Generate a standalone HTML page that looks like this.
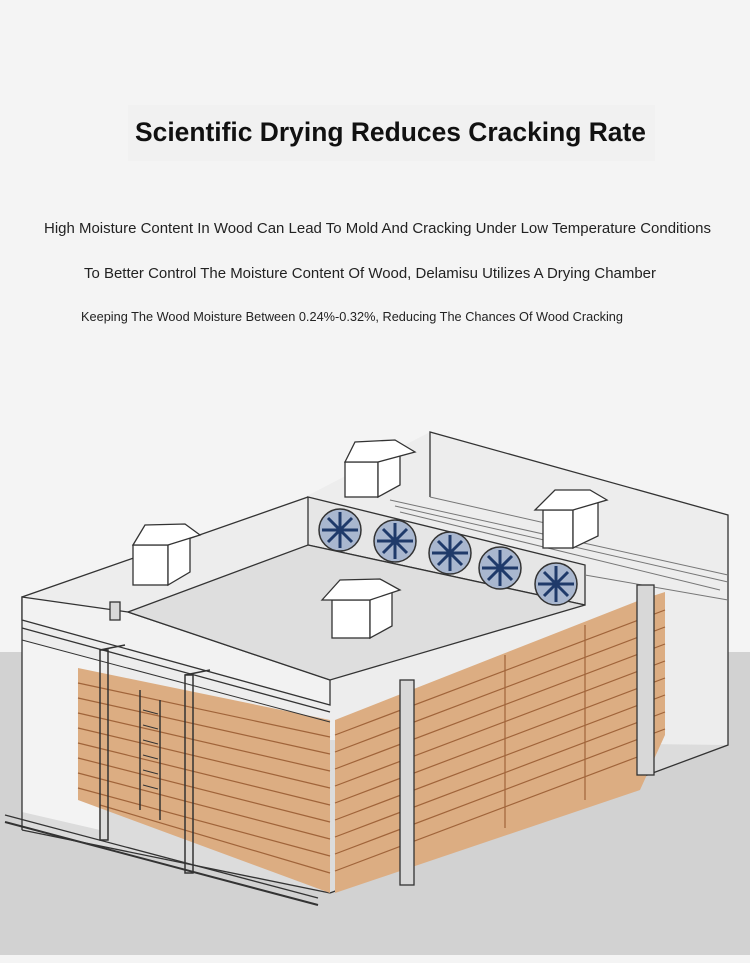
<!DOCTYPE html>
<html><head><meta charset="utf-8"><style>
html,body{margin:0;padding:0;background:#f4f4f4;}
svg{display:block}
</style></head><body>
<svg width="750" height="963" viewBox="0 0 750 963" xmlns="http://www.w3.org/2000/svg" font-family="Liberation Sans, sans-serif">
<rect x="0" y="0" width="750" height="963" fill="#f4f4f4"/>
<rect x="0" y="652" width="750" height="303" fill="#d2d2d2"/>
<rect x="0" y="955" width="750" height="8" fill="#f4f4f4"/>
<rect x="128" y="105" width="527" height="56" fill="#f1f1f1"/>
<text x="135" y="141" font-size="27" font-weight="bold" fill="#111" textLength="511" lengthAdjust="spacingAndGlyphs">Scientific Drying Reduces Cracking Rate</text>
<text x="44" y="233" font-size="15" fill="#222" textLength="667" lengthAdjust="spacingAndGlyphs">High Moisture Content In Wood Can Lead To Mold And Cracking Under Low Temperature Conditions</text>
<text x="84" y="278" font-size="15" fill="#222" textLength="572" lengthAdjust="spacingAndGlyphs">To Better Control The Moisture Content Of Wood, Delamisu Utilizes A Drying Chamber</text>
<text x="81" y="321" font-size="12.5" fill="#222" textLength="542" lengthAdjust="spacingAndGlyphs">Keeping The Wood Moisture Between 0.24%-0.32%, Reducing The Chances Of Wood Cracking</text>

<g stroke="#333" stroke-width="1.3" fill="none">
<polygon points="22,597 305,497 430,432 728,515 728,745 330,893 22,830" fill="#ededed" stroke="none"/>
<polygon points="22,655 330,740 728,745 330,893 22,830" fill="#dcdcdc" stroke="none"/>
<polygon points="22,640 100,660 100,830 22,812" fill="#f3f3f3" stroke="none"/>
<polyline points="22,830 22,597 308,497"/>
<polyline points="430,497 430,432 728,515 728,745 330,893"/>
<line x1="22" y1="830" x2="330" y2="893"/>
<line x1="5" y1="822" x2="318" y2="905" stroke-width="2"/>
<line x1="5" y1="815" x2="318" y2="898"/>
</g>
<polygon points="335,720 640,600 665,592 665,735 640,790 335,893" fill="#dcad82"/>
<g stroke="#a0643a" stroke-width="1.2">
<line x1="335" y1="735" x2="665" y2="610"/><line x1="335" y1="752" x2="665" y2="627"/><line x1="335" y1="769" x2="665" y2="644"/><line x1="335" y1="786" x2="665" y2="661"/><line x1="335" y1="803" x2="665" y2="678"/><line x1="335" y1="820" x2="665" y2="695"/><line x1="335" y1="837" x2="665" y2="712"/><line x1="335" y1="854" x2="665" y2="729"/><line x1="335" y1="871" x2="640" y2="756"/>
<line x1="505" y1="655" x2="505" y2="828"/><line x1="585" y1="625" x2="585" y2="800"/>
</g>
<polygon points="78,668 330,720 330,893 78,800" fill="#dcad82"/>
<g stroke="#a0643a" stroke-width="1.2">
<line x1="78" y1="683" x2="330" y2="737"/><line x1="78" y1="698" x2="330" y2="754"/><line x1="78" y1="713" x2="330" y2="771"/><line x1="78" y1="728" x2="330" y2="788"/><line x1="78" y1="743" x2="330" y2="805"/><line x1="78" y1="758" x2="330" y2="822"/><line x1="78" y1="773" x2="330" y2="839"/><line x1="78" y1="788" x2="330" y2="856"/><line x1="100" y1="805" x2="330" y2="873"/>
</g>
<polygon points="22,597 128,612 330,680 330,705 22,620" fill="#f2f2f2" stroke="#333" stroke-width="1.3"/>
<line x1="22" y1="628" x2="330" y2="712" stroke="#333" stroke-width="1.3"/>
<line x1="22" y1="640" x2="330" y2="722" stroke="#333"/>
<polygon points="308,497 585,565 585,605 308,545" fill="#e6e6e6" stroke="#333" stroke-width="1.3"/>
<g stroke="#777" stroke-width="1" fill="none">
<line x1="390" y1="500" x2="728" y2="575"/><line x1="395" y1="506" x2="728" y2="582"/><line x1="400" y1="512" x2="720" y2="590"/><line x1="585" y1="575" x2="728" y2="600"/>
<line x1="430" y1="497" x2="585" y2="532"/>
</g>
<polygon points="128,612 308,545 585,605 330,680" fill="#dedede" stroke="#333" stroke-width="1.3"/>
<g fill="#a9b7cf" stroke="#333" stroke-width="1.5">
<circle cx="340" cy="530" r="21"/><circle cx="395" cy="541" r="21"/><circle cx="450" cy="553" r="21"/><circle cx="500" cy="568" r="21"/><circle cx="556" cy="584" r="21"/>
</g>
<g stroke="#1f3a6a" stroke-width="3">
<path d="M340 512v36M322 530h36M328 518l24 24M352 518l-24 24"/>
<path d="M395 523v36M377 541h36M383 529l24 24M407 529l-24 24"/>
<path d="M450 535v36M432 553h36M438 541l24 24M462 541l-24 24"/>
<path d="M500 550v36M482 568h36M488 556l24 24M512 556l-24 24"/>
<path d="M556 566v36M538 584h36M544 572l24 24M568 572l-24 24"/>
</g>
<g fill="#d8d8d8" stroke="#333" stroke-width="1.3">
<rect x="400" y="680" width="14" height="205"/>
<rect x="637" y="585" width="17" height="190"/>
<rect x="110" y="602" width="10" height="18"/>
</g>
<g stroke="#333" stroke-width="1.5" fill="none">
<rect x="100" y="650" width="8" height="190"/>
<rect x="185" y="675" width="8" height="198"/>
<line x1="140" y1="690" x2="140" y2="810"/><line x1="160" y1="700" x2="160" y2="820"/>
<line x1="100" y1="650" x2="125" y2="645"/><line x1="185" y1="675" x2="210" y2="670"/>
</g>
<g stroke="#333" stroke-width="1">
<line x1="143" y1="710" x2="158" y2="714"/><line x1="143" y1="725" x2="158" y2="729"/><line x1="143" y1="740" x2="158" y2="744"/><line x1="143" y1="755" x2="158" y2="759"/><line x1="143" y1="770" x2="158" y2="774"/><line x1="143" y1="785" x2="158" y2="789"/>
</g>
<g fill="#fff" stroke="#333" stroke-width="1.3">
<rect x="345" y="462" width="33" height="35"/><polygon points="378,462 400,452 400,485 378,497"/><polygon points="345,462 355,442 395,440 415,452 378,462"/>
<rect x="133" y="545" width="35" height="40"/><polygon points="168,545 190,535 190,572 168,585"/><polygon points="133,545 145,525 185,524 200,535 168,545"/>
<rect x="543" y="510" width="30" height="38"/><polygon points="573,510 598,500 598,536 573,548"/><polygon points="535,510 555,490 590,490 607,500 573,510"/>
<rect x="332" y="600" width="38" height="38"/><polygon points="370,600 392,590 392,626 370,638"/><polygon points="322,600 340,580 380,579 400,590 370,600"/>
</g>
</svg>
</body></html>
